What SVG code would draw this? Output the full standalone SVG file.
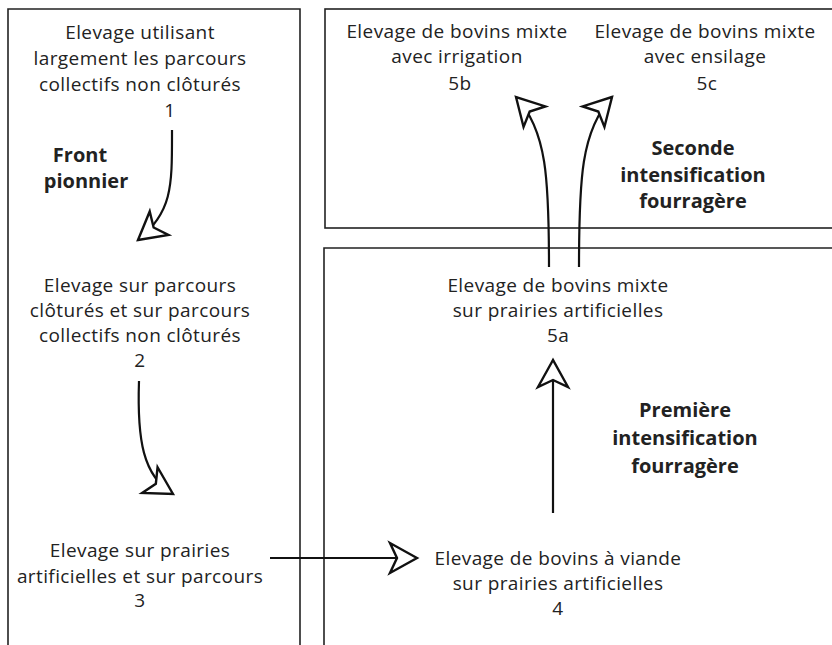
<svg xmlns="http://www.w3.org/2000/svg" width="832" height="645" viewBox="0 0 832 645">
<defs>
<style>
.box{fill:none;stroke:#222;stroke-width:1.6}
.t{font-family:"Open Sans","Noto Sans","Liberation Sans",sans-serif;font-size:19px;letter-spacing:0.4px;fill:#222;text-anchor:middle}
.b{font-family:"Open Sans","Noto Sans","Liberation Sans",sans-serif;font-size:20px;font-weight:bold;fill:#222;text-anchor:middle}
.c{fill:none;stroke:#111;stroke-width:2.2}
</style>
<marker id="ah" markerUnits="userSpaceOnUse" markerWidth="40" markerHeight="40" viewBox="-30 -20 40 40" refX="0" refY="0" orient="auto">
<path d="M0,0 L-27,-15 L-20,0 L-27,15 Z" fill="#fff" stroke="#111" stroke-width="2.4" stroke-linejoin="miter"/>
</marker>
</defs>
<rect width="832" height="645" fill="#fff"/>
<g id="frames">
<path class="box" d="M8,650 L8,9 L300,9 L300,650"/>
<rect class="box" x="325" y="9" width="520" height="219"/>
<path class="box" d="M324,650 L324,248 L845,248"/>
</g>
<g id="connectors">
<path class="c" d="M172,130 C172,185 173,212 138,240" marker-end="url(#ah)"/>
<path class="c" d="M139,381 C137,440 143,476 173,494" marker-end="url(#ah)"/>
<path class="c" d="M270,558 L417,558" marker-end="url(#ah)"/>
<path class="c" d="M553,513 L553,360" marker-end="url(#ah)"/>
<path class="c" d="M549,267 C549,180 547,130 516,97" marker-end="url(#ah)"/>
<path class="c" d="M579,267 C579,180 581,130 612,97" marker-end="url(#ah)"/>
</g>
<g id="n1">
<text class="t" x="140" y="39">Elevage utilisant</text>
<text class="t" x="140" y="65">largement les parcours</text>
<text class="t" x="140" y="91">collectifs non clôturés</text>
<text class="t" x="170" y="117">1</text>
</g>
<g id="lbl-front">
<text class="b" x="80" y="162">Front</text>
<text class="b" x="86" y="188">pionnier</text>
</g>
<g id="n2">
<text class="t" x="140" y="292">Elevage sur parcours</text>
<text class="t" x="140" y="317">clôturés et sur parcours</text>
<text class="t" x="140" y="342">collectifs non clôturés</text>
<text class="t" x="140" y="367">2</text>
</g>
<g id="n3">
<text class="t" x="140" y="557">Elevage sur prairies</text>
<text class="t" x="140" y="583">artificielles et sur parcours</text>
<text class="t" x="140" y="607">3</text>
</g>
<g id="n4">
<text class="t" x="558" y="565">Elevage de bovins à viande</text>
<text class="t" x="558" y="590">sur prairies artificielles</text>
<text class="t" x="558" y="615">4</text>
</g>
<g id="n5a">
<text class="t" x="558" y="292">Elevage de bovins mixte</text>
<text class="t" x="558" y="317">sur prairies artificielles</text>
<text class="t" x="558" y="342">5a</text>
</g>
<g id="lbl-premiere">
<text class="b" x="685" y="417">Première</text>
<text class="b" x="685" y="445">intensification</text>
<text class="b" x="685" y="473">fourragère</text>
</g>
<g id="n5b">
<text class="t" x="457" y="38">Elevage de bovins mixte</text>
<text class="t" x="457" y="63">avec irrigation</text>
<text class="t" x="460" y="90">5b</text>
</g>
<g id="n5c">
<text class="t" x="705" y="38">Elevage de bovins mixte</text>
<text class="t" x="705" y="63">avec ensilage</text>
<text class="t" x="707" y="90">5c</text>
</g>
<g id="lbl-seconde">
<text class="b" x="693" y="155">Seconde</text>
<text class="b" x="693" y="182">intensification</text>
<text class="b" x="693" y="208">fourragère</text>
</g>
</svg>
